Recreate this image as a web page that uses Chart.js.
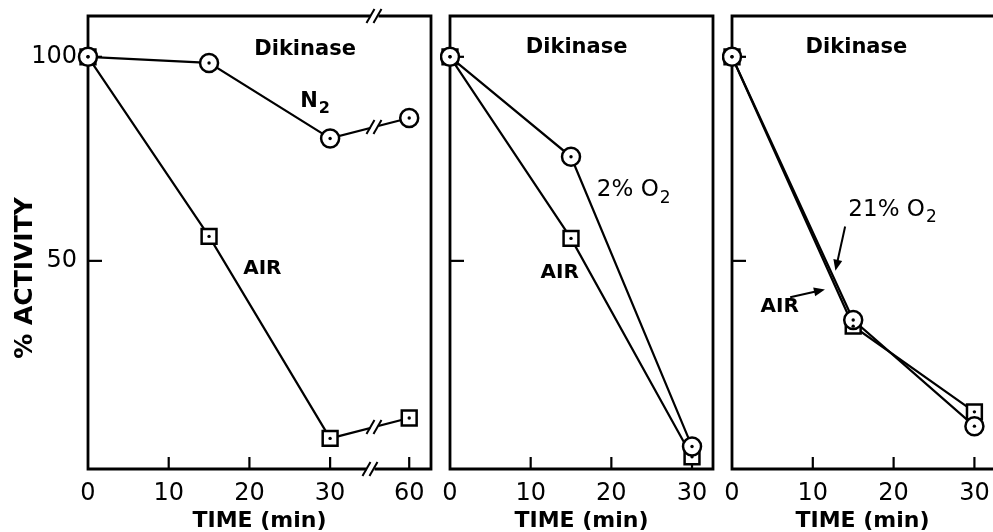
<!DOCTYPE html>
<html>
<head>
<meta charset="utf-8">
<script src="https://cdn.jsdelivr.net/npm/chart.js@4.4.1/dist/chart.umd.min.js"></script>
<style>
    html, body { margin: 0; padding: 0; background: #fff; }
    #wrap { position: relative; width: 993px; height: 532px; overflow: hidden; }
    #wrap canvas { position: absolute; top: 0; }
</style>
</head>
<body>
<div id="wrap">
    <canvas id="p1" width="440" height="532" style="left:0"></canvas>
    <canvas id="p2" width="282" height="532" style="left:440px"></canvas>
    <canvas id="p3" width="271" height="532" style="left:722px"></canvas>
</div>
<script>
// --- data (time in min, % activity) ---
const time1 = [0, 15, 30, 60];
const n2Activity = [100, 98.5, 80, 85];
const air1Activity = [100, 56, 6.5, 11.5];

const time2 = [0, 15, 30];
const o2LowActivity = [100, 75.5, 4.5];
const air2Activity = [100, 55.5, 2];

const time3 = [0, 15, 30];
const o2HighActivity = [100, 35.5, 9.5];
const air3Activity = [100, 34, 13];

const yTicks = [50, 100];
const xTicks1 = [0, 10, 20, 30, 60];
const xTicks23 = [0, 10, 20, 30];

const FONT = "'DejaVu Sans', 'Liberation Sans', sans-serif";

// panel 1 has a broken time axis: 30..60 min is squeezed into a short stretch
function squeeze(t) {
    return t <= 30 ? t : 30 + (t - 30) * 9.8 / 30;
}
const BREAK_AT = 35;

function pts(times, vals, map) {
    return times.map((t, i) => ({ x: map ? map(t) : t, y: vals[i] }));
}

function breakMark(ctx, x, y) {
    ctx.save();
    ctx.fillStyle = '#fff';
    ctx.fillRect(x - 4, y - 3, 8, 6);
    ctx.strokeStyle = '#000';
    ctx.lineWidth = 2;
    [-4, 3].forEach(dx => {
        ctx.beginPath();
        ctx.moveTo(x + dx - 4, y + 7);
        ctx.lineTo(x + dx + 4, y - 7);
        ctx.stroke();
    });
    ctx.restore();
}

// frame round the plot area + inward ticks
const framePlugin = {
    id: 'frame',
    beforeDatasetsDraw(chart, args, opts) {
        const { ctx, chartArea: a, scales } = chart;
        ctx.save();
        ctx.strokeStyle = '#000';
        ctx.lineWidth = 2.8;
        ctx.lineCap = 'square';
        ctx.beginPath();
        ctx.moveTo(a.right, a.top);
        ctx.lineTo(a.left, a.top);
        ctx.lineTo(a.left, a.bottom);
        ctx.lineTo(a.right, a.bottom);
        if (opts.right !== false) {
            ctx.moveTo(a.right, a.top);
            ctx.lineTo(a.right, a.bottom);
        }
        ctx.stroke();

        // inward ticks
        ctx.lineWidth = 2.2;
        ctx.lineCap = 'butt';
        scales.x.ticks.forEach(t => {
            const x = scales.x.getPixelForValue(t.value);
            if (x <= a.left + 2) return;
            ctx.beginPath();
            ctx.moveTo(x, a.bottom);
            ctx.lineTo(x, a.bottom - 12);
            ctx.stroke();
        });
        scales.y.ticks.forEach(t => {
            const y = scales.y.getPixelForValue(t.value);
            ctx.beginPath();
            ctx.moveTo(a.left, y);
            ctx.lineTo(a.left + 14, y);
            ctx.stroke();
        });
        ctx.restore();

        if (opts.breakAt != null) {
            const bx = scales.x.getPixelForValue(opts.breakAt);
            breakMark(ctx, bx + 4, a.top);
            breakMark(ctx, bx, a.bottom);
        }
    },
    afterDatasetsDraw(chart, args, opts) {
        const { ctx, scales } = chart;
        // centre dot in each marker
        ctx.save();
        ctx.fillStyle = '#000';
        chart.data.datasets.forEach((ds, i) => {
            chart.getDatasetMeta(i).data.forEach(el => {
                ctx.beginPath();
                ctx.arc(el.x, el.y, 1.7, 0, Math.PI * 2);
                ctx.fill();
            });
        });
        ctx.restore();
        // break marks on the lines that cross the axis break
        if (opts.breakAt != null) {
            const bx = scales.x.getPixelForValue(opts.breakAt) + 4;
            chart.data.datasets.forEach((ds, i) => {
                const els = chart.getDatasetMeta(i).data;
                for (let k = 1; k < els.length; k++) {
                    const p = els[k - 1], q = els[k];
                    if (p.x < bx && q.x > bx) {
                        const y = p.y + (q.y - p.y) * (bx - p.x) / (q.x - p.x);
                        breakMark(ctx, bx, y);
                    }
                }
            });
        }
    }
};

// text labels and arrows, placed in data coordinates
const notesPlugin = {
    id: 'notes',
    afterDraw(chart, args, opts) {
        const { ctx, scales } = chart;
        const X = v => scales.x.getPixelForValue(v);
        const Y = v => scales.y.getPixelForValue(v);
        ctx.save();
        ctx.fillStyle = '#000';
        ctx.strokeStyle = '#000';
        ctx.textBaseline = 'middle';
        (opts.labels || []).forEach(l => {
            ctx.font = `${l.weight || 'normal'} ${l.size}px ${FONT}`;
            let x = X(l.t), y = Y(l.v);
            const w = ctx.measureText(l.text).width;
            let subW = 0;
            if (l.sub) {
                ctx.font = `${l.weight || 'normal'} ${l.subSize}px ${FONT}`;
                subW = ctx.measureText(l.sub).width + 1;
            }
            if (l.align === 'center') x -= (w + subW) / 2;
            ctx.textAlign = 'left';
            ctx.font = `${l.weight || 'normal'} ${l.size}px ${FONT}`;
            ctx.fillText(l.text, x, y);
            if (l.sub) {
                ctx.font = `${l.weight || 'normal'} ${l.subSize}px ${FONT}`;
                ctx.fillText(l.sub, x + w + 1, y + l.size * 0.35);
            }
        });
        (opts.arrows || []).forEach(a => {
            const x1 = X(a.from[0]), y1 = Y(a.from[1]);
            const x2 = X(a.to[0]), y2 = Y(a.to[1]);
            const ang = Math.atan2(y2 - y1, x2 - x1);
            ctx.lineWidth = 2;
            ctx.beginPath();
            ctx.moveTo(x1, y1);
            ctx.lineTo(x2 - 6 * Math.cos(ang), y2 - 6 * Math.sin(ang));
            ctx.stroke();
            ctx.beginPath();
            ctx.moveTo(x2, y2);
            ctx.lineTo(x2 - 11 * Math.cos(ang) + 4.5 * Math.sin(ang), y2 - 11 * Math.sin(ang) - 4.5 * Math.cos(ang));
            ctx.lineTo(x2 - 11 * Math.cos(ang) - 4.5 * Math.sin(ang), y2 - 11 * Math.sin(ang) + 4.5 * Math.cos(ang));
            ctx.closePath();
            ctx.fill();
        });
        if (opts.yTitle) {
            ctx.translate(opts.yTitle.x, opts.yTitle.y);
            ctx.rotate(-Math.PI / 2);
            ctx.textAlign = 'center';
            ctx.font = `bold 25px ${FONT}`;
            ctx.fillText(opts.yTitle.text, 0, 0);
        }
        ctx.restore();
    }
};

function lineSet(data, style) {
    return {
        data,
        borderColor: '#000',
        borderWidth: 2.2,
        backgroundColor: '#fff',
        pointStyle: style,
        pointRadius: style === 'circle' ? 9 : 10.5,
        pointBorderWidth: 2.5,
        pointBorderColor: '#000',
        pointBackgroundColor: '#fff',
        tension: 0,
        clip: false
    };
}

function makePanel(id, cfg) {
    const ticks = cfg.xTicks;
    return new Chart(document.getElementById(id), {
        type: 'line',
        data: { datasets: cfg.datasets },
        plugins: [framePlugin, notesPlugin],
        options: {
            responsive: false,
            animation: false,
            events: [],
            layout: {
                autoPadding: false,
                padding: { top: 16, right: cfg.padRight, left: 0, bottom: 0 }
            },
            plugins: {
                legend: { display: false },
                tooltip: { enabled: false },
                frame: { right: cfg.rightSide, breakAt: cfg.breakAt },
                notes: cfg.notes
            },
            scales: {
                x: {
                    type: 'linear',
                    min: 0,
                    max: cfg.xMax,
                    afterBuildTicks: s => { s.ticks = ticks.map(t => ({ value: cfg.map ? cfg.map(t) : t })); },
                    afterFit: s => {
                        s.height = 63;
                        s.paddingLeft = 0;
                        s.paddingRight = 0;
                    },
                    grid: { display: false, drawTicks: false },
                    border: { display: false },
                    ticks: {
                        autoSkip: false,
                        maxRotation: 0,
                        padding: 10,
                        color: '#000',
                        font: { family: FONT, size: 24 },
                        callback: (v, i) => String(ticks[i])
                    },
                    title: {
                        display: true,
                        text: 'TIME (min)',
                        color: '#000',
                        font: { family: FONT, size: 22, weight: 'bold' },
                        padding: { top: 0, bottom: -2 }
                    }
                },
                y: {
                    min: -1,
                    max: 110,
                    afterBuildTicks: s => { s.ticks = yTicks.map(v => ({ value: v })); },
                    afterFit: s => {
                        s.width = cfg.yWidth;
                        s.paddingTop = 0;
                        s.paddingBottom = 0;
                    },
                    grid: { display: false, drawTicks: false },
                    border: { display: false },
                    ticks: {
                        display: cfg.yLabels,
                        padding: 11,
                        color: '#000',
                        font: { family: FONT, size: 24 },
                        callback: v => String(v)
                    }
                }
            }
        }
    });
}

makePanel('p1', {
    xTicks: xTicks1,
    map: squeeze,
    xMax: 42.5,
    padRight: 9,
    yWidth: 88,
    yLabels: true,
    rightSide: true,
    breakAt: BREAK_AT,
    // circles first so they sit on top of the squares where both overlap
    datasets: [
        lineSet(pts(time1, n2Activity, squeeze), 'circle'),
        lineSet(pts(time1, air1Activity, squeeze), 'rect')
    ],
    notes: {
        labels: [
            { text: 'Dikinase', t: 26.9, v: 101.7, size: 21, weight: 'bold', align: 'center' },
            { text: 'N', sub: '2', t: 26.3, v: 89, size: 21, subSize: 16, weight: 'bold' },
            { text: 'AIR', t: 21.6, v: 48, size: 20, weight: 'bold', align: 'center' }
        ],
        yTitle: { text: '% ACTIVITY', x: 25, y: 278 }
    }
});

makePanel('p2', {
    xTicks: xTicks23,
    xMax: 32.6,
    padRight: 9,
    yWidth: 10,
    yLabels: false,
    rightSide: true,
    datasets: [
        lineSet(pts(time2, o2LowActivity), 'circle'),
        lineSet(pts(time2, air2Activity), 'rect')
    ],
    notes: {
        labels: [
            { text: 'Dikinase', t: 15.7, v: 102.2, size: 21, weight: 'bold', align: 'center' },
            { text: '2% O', sub: '2', t: 18.2, v: 67.3, size: 23, subSize: 17 },
            { text: 'AIR', t: 13.6, v: 47.1, size: 20, weight: 'bold', align: 'center' }
        ]
    }
});

makePanel('p3', {
    xTicks: xTicks23,
    xMax: 32.3,
    padRight: 0,
    yWidth: 10,
    yLabels: false,
    rightSide: false,
    datasets: [
        lineSet(pts(time3, o2HighActivity), 'circle'),
        lineSet(pts(time3, air3Activity), 'rect')
    ],
    notes: {
        labels: [
            { text: 'Dikinase', t: 15.4, v: 102.2, size: 21, weight: 'bold', align: 'center' },
            { text: '21% O', sub: '2', t: 14.4, v: 62.5, size: 23, subSize: 17 },
            { text: 'AIR', t: 5.9, v: 38.7, size: 20, weight: 'bold', align: 'center' }
        ],
        arrows: [
            { from: [14.0, 58.4], to: [12.8, 47.6] },
            { from: [7.2, 41.1], to: [11.5, 43] }
        ]
    }
});
</script>
</body>
</html>
